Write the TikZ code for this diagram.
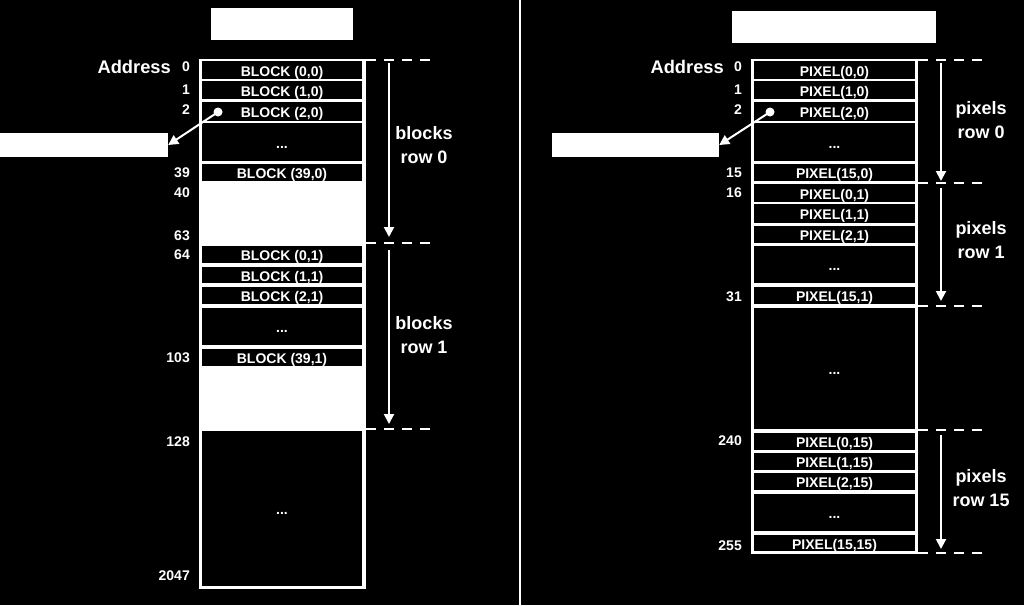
\documentclass[tikz,border=0pt]{standalone}
\usepackage{fontspec}
\setmainfont{Liberation Sans}
\usetikzlibrary{arrows.meta}

\begin{document}
\begin{tikzpicture}[
  x=1pt, y=-1pt,
  every node/.style={text=white, font=\bfseries\fontsize{14}{16}\selectfont},
  cell/.style={fill=black, inner sep=0pt, minimum width=160pt, minimum height=18pt,
               text height=12pt, text depth=0pt},
  pcell/.style={cell, minimum width=161pt},
  addr/.style={anchor=east, inner sep=0pt},
  bigaddr/.style={addr, font=\bfseries\fontsize{18.3}{18}\selectfont},
  lbl/.style={align=center, inner sep=0pt, font=\bfseries\fontsize{18}{24}\selectfont},
  blank/.style={fill=white, inner sep=0pt},
  dot/.style={circle, fill=white, inner sep=0pt, minimum size=9pt},
  arr/.style={-{Triangle[length=10pt,width=10pt]}, white, line width=2pt},
  guide/.style={white, line width=2pt, dash pattern=on 10pt off 8pt},
]
  \fill[black] (0,0) rectangle (1024,605);
  \useasboundingbox (0,0) rectangle (1024,605);

  % ----- Left: block layout -----
  \node[blank, minimum width=142pt, minimum height=32pt] (titleL) at (282,24) {};
  \fill[white] (199,59) rectangle (366,589);

  \node[cell] (b00) at (282,70) {BLOCK (0,0)};
  \node[cell] (b10) at (282,90) {BLOCK (1,0)};
  \node[cell, minimum height=19pt] (b20) at (282,111.5) {BLOCK (2,0)};
  \node[cell, minimum height=38pt] (bx0) at (282,142) {...};
  \node[cell, minimum height=17pt] (b390) at (282,172.5) {BLOCK (39,0)};
  \node[cell, minimum height=17pt] (b01) at (282,254.5) {BLOCK (0,1)};
  \node[cell, minimum height=16pt] (b11) at (282,275) {BLOCK (1,1)};
  \node[cell, minimum height=17pt] (b21) at (282,295.5) {BLOCK (2,1)};
  \node[cell, minimum height=37pt] (bx1) at (282,326.5) {...};
  \node[cell, minimum height=17pt] (b391) at (282,357.5) {BLOCK (39,1)};
  \node[cell, minimum height=155pt] (brest) at (282,508.5) {...};

  \node[bigaddr] (addrL) at (171,67) {Address};
  \node[addr] (aL0)    at (190,67)  {0};
  \node[addr] (aL1)    at (190,90)  {1};
  \node[addr] (aL2)    at (190,110) {2};
  \node[addr] (aL39)   at (190,173) {39};
  \node[addr] (aL40)   at (190,193) {40};
  \node[addr] (aL63)   at (190,236) {63};
  \node[addr] (aL64)   at (190,255) {64};
  \node[addr] (aL103)  at (190,358) {103};
  \node[addr] (aL128)  at (190,442) {128};
  \node[addr] (aL2047) at (190,576) {2047};

  % pointer out of the memory
  \node[blank, minimum width=168pt, minimum height=24pt] (callL) at (84,145) {};
  \node[dot] (dotL) at (218,112) {};
  \draw[arr] (dotL.center) -- (callL.east);

  % row spans
  \draw[guide] (366,60) -- (433,60);
  \draw[guide] (366,243) -- (433,243);
  \draw[guide] (366,429) -- (433,429);
  \draw[arr] (389,63) -- (389,237);
  \draw[arr] (389,250) -- (389,424);
  \node[lbl] (rowL0) at (424,145) {blocks\\row 0};
  \node[lbl] (rowL1) at (424,335) {blocks\\row 1};

  % ----- Separator -----
  \draw[white, line width=2.5pt] (520,0) -- (520,605);

  % ----- Right: pixel layout -----
  \node[blank, minimum width=204pt, minimum height=32pt] (titleR) at (834,27) {};
  \fill[white] (751,59) rectangle (918,554);

  \node[pcell] (p00) at (834.5,70) {PIXEL(0,0)};
  \node[pcell] (p10) at (834.5,90) {PIXEL(1,0)};
  \node[pcell, minimum height=19pt] (p20) at (834.5,111.5) {PIXEL(2,0)};
  \node[pcell, minimum height=38pt] (px0) at (834.5,142) {...};
  \node[pcell, minimum height=17pt] (p150) at (834.5,172.5) {PIXEL(15,0)};
  \node[pcell] (p01) at (834.5,193) {PIXEL(0,1)};
  \node[pcell, minimum height=19pt] (p11) at (834.5,213.5) {PIXEL(1,1)};
  \node[pcell, minimum height=17pt] (p21) at (834.5,234.5) {PIXEL(2,1)};
  \node[pcell, minimum height=37pt] (px1) at (834.5,264.5) {...};
  \node[pcell, minimum height=17pt] (p151) at (834.5,295.5) {PIXEL(15,1)};
  \node[pcell, minimum height=121pt] (pmid) at (834.5,368.5) {...};
  \node[pcell, minimum height=17pt] (p015) at (834.5,441) {PIXEL(0,15)};
  \node[pcell, minimum height=17pt] (p115) at (834.5,461.5) {PIXEL(1,15)};
  \node[pcell, minimum height=17pt] (p215) at (834.5,481.5) {PIXEL(2,15)};
  \node[pcell, minimum height=37pt] (px15) at (834.5,512.5) {...};
  \node[pcell, minimum height=16pt] (p1515) at (834.5,543) {PIXEL(15,15)};

  \node[bigaddr] (addrR) at (724,67) {Address};
  \node[addr] (aR0)   at (742,67)  {0};
  \node[addr] (aR1)   at (742,90)  {1};
  \node[addr] (aR2)   at (742,110) {2};
  \node[addr] (aR15)  at (742,173) {15};
  \node[addr] (aR16)  at (742,193) {16};
  \node[addr] (aR31)  at (742,297) {31};
  \node[addr] (aR240) at (742,441) {240};
  \node[addr] (aR255) at (742,546) {255};

  % pointer out of the memory
  \node[blank, minimum width=167pt, minimum height=24pt] (callR) at (635.5,145) {};
  \node[dot] (dotR) at (770,112) {};
  \draw[arr] (dotR.center) -- (callR.east);

  % row spans
  \draw[guide] (918,60) -- (985,60);
  \draw[guide] (918,183) -- (985,183);
  \draw[guide] (918,306) -- (985,306);
  \draw[guide] (918,430) -- (985,430);
  \draw[guide] (918,553) -- (985,553);
  \draw[arr] (941,63) -- (941,181);
  \draw[arr] (941,188) -- (941,301);
  \draw[arr] (941,435) -- (941,549);
  \node[lbl] (rowR0)  at (981,120) {pixels\\row 0};
  \node[lbl] (rowR1)  at (981,240) {pixels\\row 1};
  \node[lbl] (rowR15) at (981,488) {pixels\\row 15};
\end{tikzpicture}
\end{document}
